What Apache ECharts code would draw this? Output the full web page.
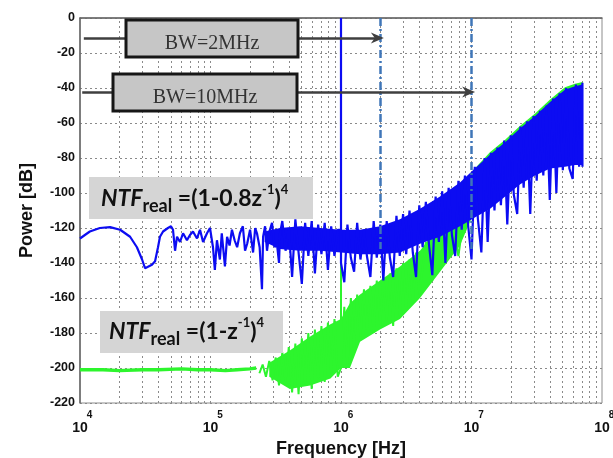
<!DOCTYPE html>
<html>
<head>
<meta charset="utf-8">
<script src="https://cdn.jsdelivr.net/npm/echarts@6/dist/echarts.min.js"></script>
<style>
  html, body { margin: 0; padding: 0; background: #fff; }
  #chart { width: 613px; height: 458px; }
</style>
</head>
<body>
<div id="chart"></div>
<script>
  // blue trace: NTF = (1-0.8z^-1)^4, low frequency part
  var blueLowF = [1.0e4, 1.09e4, 1.19e4, 1.42e4, 1.7e4, 2.03e4, 2.42e4, 2.73e4, 2.99e4, 3.15e4, 3.56e4, 3.76e4, 3.96e4, 4.1e4, 4.33e4, 4.72e4, 4.98e4, 5.16e4,
    5.35e4, 5.54e4, 5.84e4, 6.16e4, 6.6e4, 6.96e4, 7.34e4, 7.88e4, 8.31e4, 8.77e4, 9.4e4, 9.91e4];
  var blueLowDb = [-126, -124, -122, -120, -119.5, -121, -125, -131, -138, -143, -141, -139, -131, -125, -122, -120, -119, -121,
    -133, -125, -128, -123, -127, -124, -122, -126, -121, -128, -123, -120];

  var blueMidF = [1.045e5, 1.08e5, 1.12e5, 1.18e5, 1.22e5, 1.29e5, 1.34e5, 1.4e5, 1.46e5, 1.53e5, 1.6e5, 1.68e5, 1.77e5, 1.84e5, 1.91e5, 2.01e5, 2.12e5, 2.2e5, 2.27e5, 2.38e5,
    2.48e5, 2.53e5, 2.62e5, 2.71e5, 2.83e5, 2.96e5, 3.1e5, 3.23e5, 3.35e5, 3.41e5,
    3.55e5, 3.76e5, 3.98e5, 4.22e5, 4.47e5, 4.73e5, 5.01e5, 5.31e5, 5.62e5, 5.96e5, 6.31e5, 6.68e5, 7.08e5, 7.5e5, 7.94e5, 8.41e5, 8.91e5, 9.44e5,
    1.0e6, 1.0e6, 1.0e6];
  var blueMidDb = [-131, -144, -127, -138, -123, -142, -125, -130, -121, -127, -131, -123, -119, -133, -129, -121, -134, -120, -123, -131,
    -155, -125, -119, -133, -122, -117, -131, -129, -140, -123,
    -116, -133, -120, -148, -115, -134, -152, -117, -136, -116, -146, -118, -135, -117, -144, -119, -136, -121,
    -121, 0, -140];

  var blueHighF = [1.06e6, 1.12e6, 1.19e6, 1.26e6, 1.33e6, 1.41e6, 1.5e6, 1.58e6, 1.68e6, 1.78e6, 1.88e6,
    2.0e6, 2.11e6, 2.24e6, 2.37e6, 2.51e6, 2.66e6, 2.82e6, 2.99e6, 3.16e6, 3.35e6, 3.55e6, 3.76e6, 3.98e6,
    4.22e6, 4.47e6, 4.73e6, 5.01e6, 5.31e6, 5.62e6, 5.96e6, 6.31e6, 6.68e6, 7.08e6, 7.5e6, 7.94e6, 8.41e6, 8.91e6, 9.44e6,
    1.0e7, 1.06e7, 1.12e7, 1.19e7, 1.26e7, 1.33e7, 1.41e7, 1.5e7, 1.58e7, 1.68e7, 1.78e7, 1.88e7,
    2.0e7, 2.11e7, 2.24e7, 2.37e7, 2.51e7, 2.66e7, 2.82e7, 2.99e7, 3.16e7, 3.35e7, 3.55e7, 3.76e7, 3.98e7,
    4.22e7, 4.47e7, 4.73e7, 5.01e7, 5.31e7, 5.62e7, 5.96e7, 6.31e7, 6.68e7, 7.08e7, 7.08e7];
  var blueHighDb = [-151, -118, -137, -145, -117, -138, -121, -136, -148, -116, -137,
    -118, -150, -116, -137, -148, -113, -136, -112, -135, -110, -134, -148, -107,
    -131, -105, -130, -147, -102, -128, -99, -140, -97, -124, -136, -93, -121, -90, -119,
    -138, -85, -115, -134, -80, -128, -77, -110, -74, -107, -70, -118,
    -67, -101, -112, -62, -97, -59, -112, -56, -93, -53, -90, -50, -104,
    -46, -100, -43, -87, -40, -86, -92, -38, -85, -37, -85];

  // dense core of the blue trace
  var blueBandF = [2.6e5, 3.41e5, 4.86e5, 6.91e5, 1.0e6, 1.4e6, 1.99e6, 2.83e6, 4.03e6, 5.74e6, 8.16e6, 1.06e7, 1.39e7, 1.81e7, 2.36e7, 3.07e7, 4.0e7, 5.2e7, 6.21e7, 7.08e7];
  var blueBandTop = [-122, -120, -119, -120, -121, -121, -119, -115, -109, -102, -94, -86, -78, -71, -63, -56, -48, -41, -39, -38];
  var blueBandBot = [-128, -132, -133, -133, -134, -135, -135, -134, -129, -125, -119, -114, -109, -102, -95, -90, -86, -85, -84, -84];

  // green trace: NTF = (1-z^-1)^4
  var greenFlatF = [1e4, 1.5e4, 2e4, 3e4, 4e4, 6e4, 8e4, 1e5, 1.3e5, 1.6e5, 2e5, 2.24e5];
  var greenFlatDb = [-201, -201, -201.5, -201, -201, -200.5, -201, -201, -201.5, -201, -200.5, -200];

  var greenNoiseF = [2.37e5, 2.51e5, 2.66e5, 2.82e5, 2.99e5, 3.16e5, 3.35e5, 3.55e5, 3.76e5, 3.98e5,
    4.22e5, 4.47e5, 4.73e5, 5.01e5, 5.31e5, 5.62e5, 5.96e5, 6.31e5, 6.68e5, 7.08e5,
    7.5e5, 7.94e5, 8.41e5, 8.91e5, 9.44e5, 1e6, 1e6, 1e6,
    1.06e6, 1.12e6, 1.19e6, 1.26e6, 1.33e6, 1.41e6, 1.5e6, 1.58e6, 1.68e6, 1.78e6, 1.88e6,
    2.0e6, 2.11e6, 2.24e6, 2.37e6, 2.51e6, 2.66e6, 2.82e6, 2.99e6,
    3.16e6, 3.35e6, 3.55e6, 3.76e6, 3.98e6,
    4.47e6, 5.01e6, 5.62e6, 6.31e6, 7.08e6, 7.94e6, 8.91e6];
  var greenNoiseDb = [-203, -198, -205, -196, -207, -194, -210, -191, -208, -188,
    -214, -186, -215, -183, -209, -180, -212, -178, -206, -176,
    -208, -174, -203, -172, -205, -200, -60, -199,
    -165, -200, -160, -190, -158, -182, -155, -178, -153, -180, -150,
    -176, -148, -173, -146, -176, -143, -170, -140,
    -167, -138, -163, -134, -158,
    -128, -150, -122, -140, -117, -136, -108];

  var greenBandF = [2.82e5, 4.05e5, 5.8e5, 8.3e5, 1.0e6, 1.17e6, 1.4e6, 1.99e6, 2.83e6, 4.03e6, 5.74e6, 8.16e6, 1.06e7, 1.39e7, 1.81e7, 2.36e7, 3.07e7, 4.0e7, 5.2e7, 6.21e7, 7.08e7];
  var greenBandTop = [-197, -190, -182, -175, -172, -163, -158, -150, -142, -133, -118, -96, -86, -76.5, -69.5, -61.5, -54.5, -46.5, -39.5, -37.5, -36.5];
  var greenBandBot = [-205, -212, -210, -206, -200, -200, -185, -178, -172, -160, -145, -130, -110, -100, -93, -87, -82, -78, -76, -75, -75];

  // annotation values
  var bwFreqs = [2e6, 1e7];
  var bwLineBottom = -132;
  var arrowLevels = [-11.4, -42.3];
  var arrowStarts = [1.07e4, 1.04e4];
  var arrowEnds = [1.9e6, 9.5e6];

  function pairs(fs, ds) {
    return fs.map(function (f, i) { return [f, ds[i]]; });
  }

  function band(fs, top, bot, color) {
    return function (params, api) {
      var pts = [];
      for (var i = 0; i < fs.length; i++) pts.push(api.coord([fs[i], top[i]]));
      for (var j = fs.length - 1; j >= 0; j--) pts.push(api.coord([fs[j], bot[j]]));
      return { type: 'polygon', shape: { points: pts }, style: { fill: color } };
    };
  }

  // dotted grid at 1..9 of every decade
  var gridLines = [];
  for (var d = 4; d < 8; d++) {
    for (var m = 1; m < 10; m++) {
      if (d === 4 && m === 1) continue;
      gridLines.push({ xAxis: m * Math.pow(10, d) });
    }
  }

  var BLUE = '#0c0cf2';
  var GREEN = '#2df52d';
  var font = '"Liberation Sans", Arial, sans-serif';
  var ntfRich = {
    i: { fontFamily: 'Lato', fontWeight: 'bold', fontStyle: 'italic', fontSize: 23, lineHeight: 32, fill: '#111' },
    s: { fontFamily: 'Lato', fontWeight: 'bold', fontSize: 18, lineHeight: 14, verticalAlign: 'bottom', fill: '#111' },
    m: { fontFamily: 'Lato', fontWeight: 'bold', fontSize: 23, lineHeight: 32, fill: '#111' },
    p: { fontFamily: 'Lato', fontWeight: 'bold', fontSize: 13, lineHeight: 22, verticalAlign: 'top', fill: '#111' }
  };

  var chart = echarts.init(document.getElementById('chart'));
  chart.setOption({
    animation: false,
    grid: {
      left: 80, right: 11, top: 18, bottom: 55, containLabel: false, outerBoundsMode: 'none',
      show: true, borderColor: '#8c8c8c', borderWidth: 1
    },
    xAxis: {
      type: 'log', logBase: 10, min: 1e4, max: 1e8,
      name: 'Frequency [Hz]', nameLocation: 'middle', nameGap: 34,
      nameTextStyle: { fontFamily: font, fontWeight: 'bold', fontSize: 18, color: '#111' },
      axisLine: { lineStyle: { color: '#666', width: 1.5 } },
      axisTick: { show: false },
      splitLine: { show: false },
      axisLabel: {
        margin: 7, showMinLabel: true, showMaxLabel: true,
        formatter: function (v) { return '{e|' + Math.round(Math.log10(v)) + '}\n{b|10}'; },
        rich: {
          e: { fontFamily: font, fontWeight: 'bold', fontSize: 10, lineHeight: 11, color: '#111', padding: [0, 0, 0, 19] },
          b: { fontFamily: font, fontWeight: 'bold', fontSize: 14, lineHeight: 15, color: '#111' }
        }
      }
    },
    yAxis: {
      type: 'value', min: -220, max: 0, interval: 20,
      name: 'Power [dB]', nameLocation: 'middle', nameGap: 44, nameRotate: 90,
      nameTextStyle: { fontFamily: font, fontWeight: 'bold', fontSize: 18, color: '#111' },
      axisLine: { show: true, lineStyle: { color: '#666', width: 1.5 } },
      axisTick: { show: false },
      axisLabel: { margin: 5, fontFamily: font, fontWeight: 'bold', fontSize: 12.5, color: '#111' },
      splitLine: { lineStyle: { type: [2, 3], color: '#8a8a8a', width: 1 } }
    },
    series: [
      {
        type: 'line', data: [[1e8, -220]], symbol: 'none', silent: true, z: 1,
        lineStyle: { width: 0 },
        markLine: {
          silent: true, symbol: 'none', label: { show: false }, z: 1,
          lineStyle: { type: [2, 3], color: '#8a8a8a', width: 1 },
          data: gridLines
        }
      },
      {
        type: 'custom', renderItem: band(greenBandF, greenBandTop, greenBandBot, GREEN),
        data: [[greenBandF[0], greenBandTop[0]]], silent: true, z: 2
      },
      {
        type: 'line', data: pairs(greenFlatF, greenFlatDb), symbol: 'none', z: 2,
        lineStyle: { color: GREEN, width: 3.5 }
      },
      {
        type: 'line', data: pairs(greenNoiseF, greenNoiseDb), symbol: 'none', z: 2,
        lineStyle: { color: GREEN, width: 2 }
      },
      {
        type: 'custom', renderItem: band(blueBandF, blueBandTop, blueBandBot, BLUE),
        data: [[blueBandF[0], blueBandTop[0]]], silent: true, z: 3
      },
      {
        type: 'line', data: pairs(blueLowF.concat(blueMidF, blueHighF), blueLowDb.concat(blueMidDb, blueHighDb)),
        symbol: 'none', z: 3,
        lineStyle: { color: BLUE, width: 2.2 }
      },
      {
        type: 'line', data: [[1e8, -220]], symbol: 'none', silent: true, z: 10,
        lineStyle: { width: 0 },
        markLine: {
          silent: true, symbol: 'none', label: { show: false }, z: 10,
          lineStyle: { type: [8, 3, 2, 3], color: '#3f76b8', width: 2.5 },
          data: bwFreqs.map(function (f) { return [{ coord: [f, 0] }, { coord: [f, bwLineBottom] }]; })
        }
      },
      {
        type: 'line', data: [[1e8, -220]], symbol: 'none', silent: true, z: 10,
        lineStyle: { width: 0 },
        markLine: {
          silent: true, z: 10,
          symbol: ['none', 'path://M5,0 L10,10 L5,7 L0,10 Z'], symbolSize: [11, 13],
          label: { show: false },
          lineStyle: { type: 'solid', color: '#3f3f3f', width: 2.5 },
          data: arrowLevels.map(function (lv, i) { return [{ coord: [arrowStarts[i], lv] }, { coord: [arrowEnds[i], lv] }]; })
        }
      }
    ],
    graphic: [
      { type: 'rect', z: 100, shape: { x: 126, y: 20, width: 172, height: 37 }, style: { fill: '#c6c6c6', stroke: '#161616', lineWidth: 3 } },
      { type: 'text', z: 101, style: { x: 212, y: 44, text: 'BW=2MHz', align: 'center', verticalAlign: 'middle', fontFamily: '"Liberation Serif", serif', fontSize: 20, fill: '#333' } },
      { type: 'rect', z: 100, shape: { x: 113, y: 74, width: 184, height: 37 }, style: { fill: '#c6c6c6', stroke: '#161616', lineWidth: 3 } },
      { type: 'text', z: 101, style: { x: 205, y: 98, text: 'BW=10MHz', align: 'center', verticalAlign: 'middle', fontFamily: '"Liberation Serif", serif', fontSize: 20, fill: '#333' } },
      { type: 'rect', z: 100, shape: { x: 89, y: 177, width: 224, height: 42 }, style: { fill: '#d5d5d5' } },
      { type: 'text', z: 101, style: { x: 101, y: 183, text: '{i|NTF}{s|real}{m| =(1-0.8z}{p|-1}{m|)}{p|4}', rich: ntfRich } },
      { type: 'rect', z: 100, shape: { x: 100, y: 311, width: 183, height: 42 }, style: { fill: '#d5d5d5' } },
      { type: 'text', z: 101, style: { x: 109, y: 316, text: '{i|NTF}{s|real}{m| =(1-z}{p|-1}{m|)}{p|4}', rich: ntfRich } }
    ]
  });
</script>
</body>
</html>
